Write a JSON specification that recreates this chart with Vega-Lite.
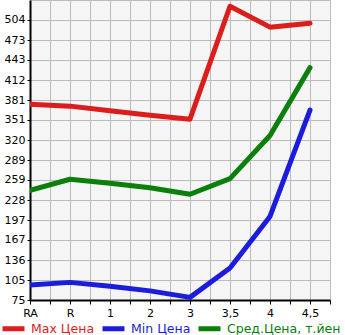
{
  "$schema": "https://vega.github.io/schema/vega-lite/v6.json",
  "autosize": "none",
  "width": 300,
  "height": 300,
  "padding": {"left": 30, "top": 0, "right": 15, "bottom": 35},
  "background": "white",
  "config": {
    "view": {"fill": "#f5f5f5", "stroke": "#bbbbbb"},
    "font": "DejaVu Sans"
  },
  "data": {
    "values": [
      {"i": 0, "s": "Max Цена", "v": 375},
      {"i": 1, "s": "Max Цена", "v": 372},
      {"i": 2, "s": "Max Цена", "v": 365},
      {"i": 3, "s": "Max Цена", "v": 358},
      {"i": 4, "s": "Max Цена", "v": 352},
      {"i": 5, "s": "Max Цена", "v": 525},
      {"i": 6, "s": "Max Цена", "v": 493},
      {"i": 7, "s": "Max Цена", "v": 499},
      {"i": 0, "s": "Min Цена", "v": 98},
      {"i": 1, "s": "Min Цена", "v": 102},
      {"i": 2, "s": "Min Цена", "v": 96},
      {"i": 3, "s": "Min Цена", "v": 89},
      {"i": 4, "s": "Min Цена", "v": 79},
      {"i": 5, "s": "Min Цена", "v": 124},
      {"i": 6, "s": "Min Цена", "v": 203},
      {"i": 7, "s": "Min Цена", "v": 366},
      {"i": 0, "s": "Сред.Цена, т.йен", "v": 243},
      {"i": 1, "s": "Сред.Цена, т.йен", "v": 260},
      {"i": 2, "s": "Сред.Цена, т.йен", "v": 254},
      {"i": 3, "s": "Сред.Цена, т.йен", "v": 247},
      {"i": 4, "s": "Сред.Цена, т.йен", "v": 237},
      {"i": 5, "s": "Сред.Цена, т.йен", "v": 261},
      {"i": 6, "s": "Сред.Цена, т.йен", "v": 327},
      {"i": 7, "s": "Сред.Цена, т.йен", "v": 431}
    ]
  },
  "mark": {"type": "line", "strokeWidth": 5, "strokeCap": "round", "strokeJoin": "round", "clip": true},
  "encoding": {
    "x": {
      "field": "i",
      "type": "quantitative",
      "scale": {"domain": [0, 7.5], "nice": false, "zero": false},
      "axis": {
        "title": null,
        "values": [0, 0.5, 1, 1.5, 2, 2.5, 3, 3.5, 4, 4.5, 5, 5.5, 6, 6.5, 7, 7.5],
        "labelExpr": "datum.value % 1 == 0 ? ['RA','R','1','2','3','3,5','4','4,5'][datum.value] : ''",
        "grid": true,
        "gridColor": "#bbbbbb",
        "gridOpacity": 1,
        "domainColor": "black",
        "domainWidth": 2,
        "tickColor": "black",
        "tickSize": 4,
        "labelFontSize": 11,
        "labelColor": "black",
        "labelPadding": 3,
        "labelFlush": false,
        "labelOverlap": false
      }
    },
    "y": {
      "field": "v",
      "type": "quantitative",
      "scale": {"domain": [75, 534.6], "nice": false, "zero": false},
      "axis": {
        "title": null,
        "values": [75, 105, 136, 167, 197, 228, 259, 289, 320, 351, 381, 412, 443, 473, 504],
        "grid": true,
        "gridColor": "#bbbbbb",
        "gridOpacity": 1,
        "domainColor": "black",
        "domainWidth": 2,
        "tickColor": "black",
        "tickSize": 3,
        "labelFontSize": 11,
        "labelColor": "black",
        "labelPadding": 2,
        "labelOverlap": false,
        "labelFlush": false
      }
    },
    "color": {
      "field": "s",
      "type": "nominal",
      "scale": {
        "domain": ["Max Цена", "Min Цена", "Сред.Цена, т.йен"],
        "range": ["#dd1c1c", "#1c1cdd", "#0a800a"]
      },
      "legend": {
        "title": null,
        "orient": "none",
        "direction": "horizontal",
        "legendX": -30,
        "legendY": 315,
        "padding": 0,
        "symbolType": "stroke",
        "symbolStrokeWidth": 5,
        "symbolSize": 484,
        "labelFontSize": 12.5,
        "labelOffset": 4,
        "columnPadding": -3,
        "labelLimit": 300,
        "encode": {
          "labels": {"update": {"fill": {"scale": "color", "field": "value"}}}
        }
      }
    }
  }
}
